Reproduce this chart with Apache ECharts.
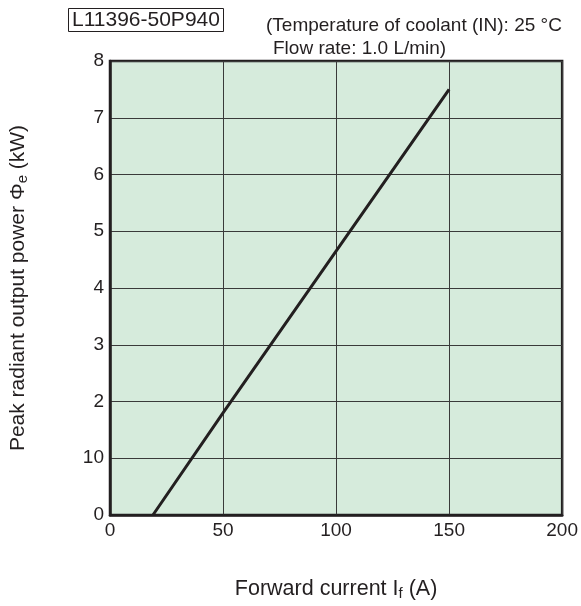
<!DOCTYPE html>
<html>
<head>
<meta charset="utf-8">
<script src="https://cdn.jsdelivr.net/npm/echarts@6/dist/echarts.min.js"></script>
<style>
  html, body { margin: 0; padding: 0; background: #fff; }
  #chart { width: 581px; height: 606px; }
</style>
</head>
<body>
<div id="chart"></div>
<script>
// Data
const currentA = [19, 50, 100, 150];
const powerKW = [0, 1.8, 4.65, 7.5];
// Tick labels as printed (the "10" is in the original)
const yTickLabels = ['0', '10', '2', '3', '4', '5', '6', '7', '8'];
const xTickLabels = ['0', '50', '100', '150', '200'];

const ink = '#231f20';
const font = 'Liberation Sans';

const chart = echarts.init(document.getElementById('chart'));

chart.setOption({
  animation: false,
  title: {
    text: 'L11396-50P940',
    left: 68,
    top: 8,
    padding: [2, 4, 1, 4],
    borderColor: ink,
    borderWidth: 1,
    textStyle: { fontFamily: font, fontSize: 21, fontWeight: 'normal', color: ink, lineHeight: 21 }
  },
  graphic: [
    {
      type: 'text', left: 266, top: 16,
      style: { text: '(Temperature of coolant (IN): 25 °C', fontFamily: font, fontSize: 19, fill: ink }
    },
    {
      type: 'text', left: 273, top: 39,
      style: { text: 'Flow rate: 1.0 L/min)', fontFamily: font, fontSize: 19, fill: ink }
    }
  ],
  grid: {
    left: 109, right: 16, top: 61, bottom: 91,
    show: true,
    backgroundColor: '#d6ebdc',
    borderColor: ink,
    borderWidth: 2.5
  },
  xAxis: {
    type: 'value',
    min: 0, max: 200, interval: 50,
    name: 'Forward current I{sub|f} (A)',
    nameLocation: 'middle',
    nameGap: 63,
    nameTextStyle: {
      fontFamily: font, fontSize: 21.5, color: ink,
      rich: { sub: { fontFamily: font, fontSize: 15, color: ink, padding: [8, 0, 0, 0] } }
    },
    axisLine: { show: true, lineStyle: { color: ink, width: 2.5 } },
    axisTick: { show: false },
    splitLine: { show: true, lineStyle: { color: '#3a3a3a', width: 1 } },
    axisLabel: {
      fontFamily: font, fontSize: 19, color: ink, margin: 6,
      formatter: (v) => xTickLabels[Math.round(v / 50)]
    }
  },
  yAxis: {
    type: 'value',
    min: 0, max: 8, interval: 1,
    name: 'Peak radiant output power Φ{sub|e} (kW)',
    nameLocation: 'middle',
    nameGap: 80,
    nameTextStyle: {
      fontFamily: font, fontSize: 21, color: ink,
      rich: { sub: { fontFamily: font, fontSize: 15, color: ink, padding: [8, 0, 0, 0] } }
    },
    axisLine: { show: true, lineStyle: { color: ink, width: 2.5 } },
    axisTick: { show: false },
    splitLine: { show: true, lineStyle: { color: '#3a3a3a', width: 1 } },
    axisLabel: {
      fontFamily: font, fontSize: 19, color: ink, margin: 6,
      formatter: (v) => yTickLabels[Math.round(v)]
    }
  },
  series: [{
    type: 'line',
    data: currentA.map((x, i) => [x, powerKW[i]]),
    showSymbol: false,
    lineStyle: { color: ink, width: 3 },
    z: 5
  }]
});
</script>
</body>
</html>
